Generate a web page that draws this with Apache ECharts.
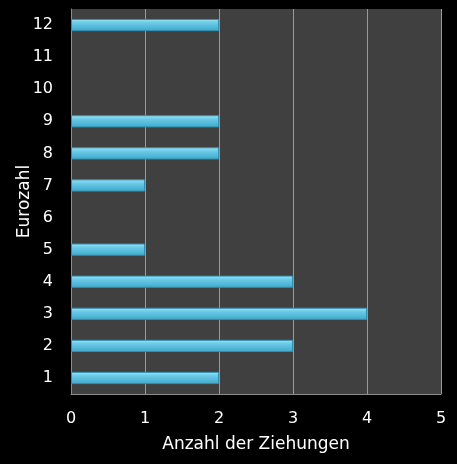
<!DOCTYPE html>
<html lang="de">
<head>
    <meta charset="UTF-8">
    <title>Eurozahl</title>
    <script src="https://cdn.jsdelivr.net/npm/echarts@6/dist/echarts.min.js"></script>
    <style>
        html, body { margin: 0; padding: 0; background: #000; }
    </style>
</head>
<body>
<div id="main" style="width: 457px; height: 464px;"></div>
<script>
    // Daten
    var eurozahlen = ['1', '2', '3', '4', '5', '6', '7', '8', '9', '10', '11', '12'];
    var anzahl = [2, 3, 4, 3, 1, 0, 1, 2, 2, 0, 0, 2];
    var xTicks = [0, 1, 2, 3, 4, 5];

    var myChart = echarts.init(document.getElementById('main'));
    // Nullwerte ohne Rahmen, sonst bleibt ein Strich an der Achse
    var barData = anzahl.map(function (v) {
        return v === 0 ? {value: v, itemStyle: {borderWidth: 0, opacity: 0}} : v;
    });
    var option = {
        backgroundColor: '#000000',
        animation: false,
        textStyle: {fontFamily: 'DejaVu Sans'},
        grid: {
            show: true,
            left: 71,
            right: 16,
            top: 9,
            bottom: 70,
            outerBoundsMode: 'none',
            backgroundColor: '#404040',
            borderWidth: 0
        },
        xAxis: {
            type: 'value',
            min: xTicks[0],
            max: xTicks[xTicks.length - 1],
            interval: 1,
            name: 'Anzahl der Ziehungen',
            nameLocation: 'middle',
            nameGap: 42,
            nameMoveOverlap: false,
            nameTextStyle: {color: '#ffffff', fontSize: 17},
            axisLine: {show: true, lineStyle: {color: '#8c8c8c', width: 1}},
            axisTick: {show: false},
            axisLabel: {color: '#ffffff', fontSize: 16, margin: 17},
            splitLine: {show: true, lineStyle: {color: '#9a9a9a', width: 1}}
        },
        yAxis: {
            type: 'category',
            data: eurozahlen,
            name: 'Eurozahl',
            nameLocation: 'middle',
            nameGap: 38,
            nameRotate: 90,
            nameMoveOverlap: false,
            nameTextStyle: {color: '#ffffff', fontSize: 17},
            axisLine: {show: true, lineStyle: {color: '#8c8c8c', width: 1}},
            axisTick: {show: false},
            axisLabel: {color: '#ffffff', fontSize: 16, margin: 18},
            splitLine: {show: false}
        },
        series: [
            {
                type: 'bar',
                data: barData,
                barCategoryGap: '62%',
                itemStyle: {
                    color: new echarts.graphic.LinearGradient(0, 0, 0, 1, [
                        {offset: 0, color: '#a4e6f7'},
                        {offset: 0.3, color: '#6ccbe8'},
                        {offset: 1, color: '#3fa8cb'}
                    ]),
                    borderColor: '#2f8fb0',
                    borderWidth: 1
                }
            }
        ]
    };
    myChart.setOption(option);
</script>
</body>
</html>
